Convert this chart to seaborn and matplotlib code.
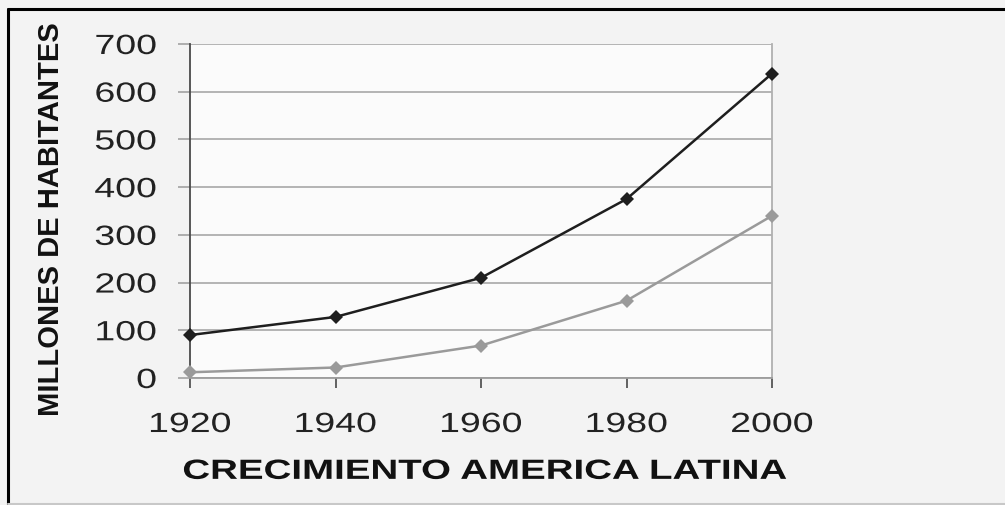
import matplotlib
matplotlib.use("Agg")
import matplotlib.pyplot as plt
from matplotlib.patheffects import AbstractPathEffect
from matplotlib.transforms import Affine2D
import pandas as pd
import seaborn as sns

# Population of Latin America (millions)
years = [1920, 1940, 1960, 1980, 2000]
serie_total = [90, 128, 210, 375, 638]
serie_urbana = [12, 22, 68, 162, 340]
series_names = ["Total", "Urbana"]
yticks = [0, 100, 200, 300, 400, 500, 600, 700]
xticks = [1920, 1940, 1960, 1980, 2000]

df = pd.DataFrame({
    "year": years * 2,
    "value": serie_total + serie_urbana,
    "serie": [series_names[0]] * len(years) + [series_names[1]] * len(years),
})


class WideText(AbstractPathEffect):
    """Draws text widened horizontally around a chosen anchor."""

    def __init__(self, sx, anchor="center"):
        super().__init__()
        self.sx = sx
        self.anchor = anchor

    def draw_path(self, renderer, gc, tpath, affine, rgbFace=None):
        ext = affine.transform_path(tpath).get_extents()
        if self.anchor == "right":
            x0 = ext.x1
        elif self.anchor == "left":
            x0 = ext.x0
        else:
            x0 = 0.5 * (ext.x0 + ext.x1)
        wide = affine + Affine2D().translate(-x0, 0).scale(self.sx, 1).translate(x0, 0)
        renderer.draw_path(gc, tpath, wide, rgbFace)


sns.set_theme(style="white")
plt.rcParams["font.family"] = ["Liberation Sans", "DejaVu Sans"]

bg = "#f3f3f3"
fig = plt.figure(figsize=(10.05, 5.05), dpi=100, facecolor=bg)
ax = fig.add_axes([190 / 1005, 1 - 378 / 505, 582 / 1005, 334 / 505])
ax.set_facecolor("#fbfbfb")

sns.lineplot(
    data=df, x="year", y="value", hue="serie", ax=ax,
    palette={series_names[0]: "#1e1e1e", series_names[1]: "#9a9a9a"},
    marker="D", markersize=7.5, markeredgewidth=0, linewidth=1.8,
    legend=False, clip_on=False, zorder=5,
)

ax.set_xlim(1920, 2000)
ax.set_ylim(0, 700)
ax.set_xticks(xticks)
ax.set_yticks(yticks)
ax.set_xticklabels([str(t) for t in xticks])
ax.set_yticklabels([str(t) for t in yticks])

ax.yaxis.grid(True, color="#b4b4b4", linewidth=1.4)
ax.xaxis.grid(False)
ax.set_axisbelow(True)

ax.spines["top"].set_visible(False)
ax.spines["left"].set_color("#4a4a4a")
ax.spines["left"].set_linewidth(1.3)
ax.spines["bottom"].set_color("#9c9c9c")
ax.spines["bottom"].set_linewidth(1.3)
ax.spines["right"].set_color("#b0b0b0")
ax.spines["right"].set_linewidth(1.3)

ax.tick_params(axis="y", left=True, length=9, width=1.3, color="#a8a8a8",
               pad=15, labelsize=20, labelcolor="#222222")
ax.tick_params(axis="x", bottom=True, length=7.5, width=1.3, color="#555555",
               pad=17, labelsize=20, labelcolor="#222222")

for lbl in ax.get_yticklabels():
    lbl.set_path_effects([WideText(1.35, "right")])
for lbl in ax.get_xticklabels():
    lbl.set_path_effects([WideText(1.35, "center")])

ax.set_xlabel("CRECIMIENTO AMERICA LATINA", fontsize=20, fontweight="bold",
              color="#111111", va="center")
ax.xaxis.set_label_coords(0.506, -0.281)
ax.xaxis.label.set_path_effects([WideText(1.385, "center")])
ax.set_ylabel("MILLONES DE HABITANTES", fontsize=21, fontweight="bold",
              color="#111111", va="center")
ax.yaxis.set_label_coords(-0.238, 0.477)

# outer frame of the figure
fig.add_artist(plt.Line2D([7.5 / 1005, 7.5 / 1005], [0, 1 - 8.5 / 505],
                          transform=fig.transFigure, color="#000000", linewidth=2.2))
fig.add_artist(plt.Line2D([7.5 / 1005, 1], [1 - 8.5 / 505, 1 - 8.5 / 505],
                          transform=fig.transFigure, color="#000000", linewidth=2.2))
fig.add_artist(plt.Line2D([7.5 / 1005, 1], [1.5 / 505, 1.5 / 505],
                          transform=fig.transFigure, color="#c8c8c8", linewidth=1.5))

fig.savefig("out.png", dpi=100, facecolor=bg)
